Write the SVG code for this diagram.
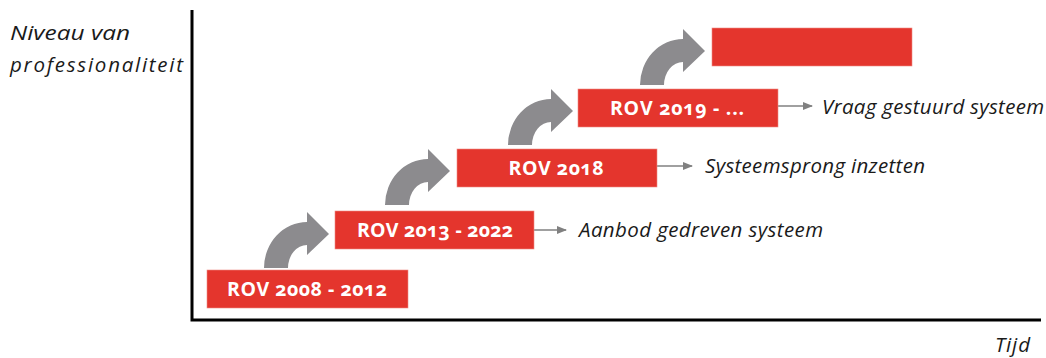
<svg xmlns="http://www.w3.org/2000/svg" xmlns:xlink="http://www.w3.org/1999/xlink" width="1046" height="358" viewBox="0 0 1046 358">
<style>
.box{fill:#e4352d;stroke:#ef8a84;stroke-width:0.6}
.bt{font-family:"Open Sans","Lato",sans-serif;font-weight:bold;font-size:19.5px;fill:#ffffff;text-anchor:middle;font-variant-numeric:oldstyle-nums;font-feature-settings:"onum" 1}
.lbl{font-family:"Open Sans","Lato",sans-serif;font-style:italic;font-size:20.5px;fill:#1a1a1a}
.conn{stroke:#808080;stroke-width:1.5;fill:none}
.curve{fill:#8c8b8e}
.axis{stroke:#000;stroke-width:3;fill:none}
</style>
<defs>
<path id="curve" d="M0,0 A43,46 0 0 1 43,-46 L43,-56 L65,-34 L43,-13 L43,-23 A19,23 0 0 0 24,0 Z"/>
<marker id="ah" markerWidth="10" markerHeight="8" refX="9" refY="4" orient="auto" markerUnits="userSpaceOnUse">
<path d="M0,0 L10,4 L0,8 Z" fill="#808080"/>
</marker>
</defs>
<g id="axes">
<path class="axis" d="M192,10 L192,320 L1041,320"/>
<text class="lbl" x="10" y="40" textLength="120" lengthAdjust="spacingAndGlyphs">Niveau van</text>
<text class="lbl" x="10" y="72" textLength="173">professionaliteit</text>
<text class="lbl" x="995" y="352" textLength="35">Tijd</text>
</g>
<g id="curves">
<use xlink:href="#curve" class="curve" x="264" y="268"/>
<use xlink:href="#curve" class="curve" x="385" y="205"/>
<use xlink:href="#curve" class="curve" x="508" y="145"/>
<use xlink:href="#curve" class="curve" x="640" y="85"/>
</g>
<g id="connectors">
<line class="conn" x1="534" y1="230" x2="566" y2="230" marker-end="url(#ah)"/>
<line class="conn" x1="657" y1="166" x2="692" y2="166" marker-end="url(#ah)"/>
<line class="conn" x1="778" y1="106" x2="812" y2="106" marker-end="url(#ah)"/>
</g>
<g id="node1">
<rect class="box" x="207" y="270" width="201" height="38"/>
<text class="bt" x="307" y="296" textLength="160">ROV 2008 - 2012</text>
</g>
<g id="node2">
<rect class="box" x="335" y="211" width="199" height="38"/>
<text class="bt" x="435" y="237" textLength="156">ROV 2013 - 2022</text>
<text class="lbl" x="579" y="237" textLength="244">Aanbod gedreven systeem</text>
</g>
<g id="node3">
<rect class="box" x="457" y="149" width="200" height="38"/>
<text class="bt" x="556" y="175" textLength="95">ROV 2018</text>
<text class="lbl" x="705" y="173" textLength="220">Systeemsprong inzetten</text>
</g>
<g id="node4">
<rect class="box" x="578" y="89" width="200" height="38"/>
<text class="bt" x="677" y="115" textLength="134">ROV 2019 - ...</text>
<text class="lbl" x="822" y="114" textLength="222">Vraag gestuurd systeem</text>
</g>
<g id="node5">
<rect class="box" x="712" y="28" width="200" height="38"/>
</g>
</svg>
